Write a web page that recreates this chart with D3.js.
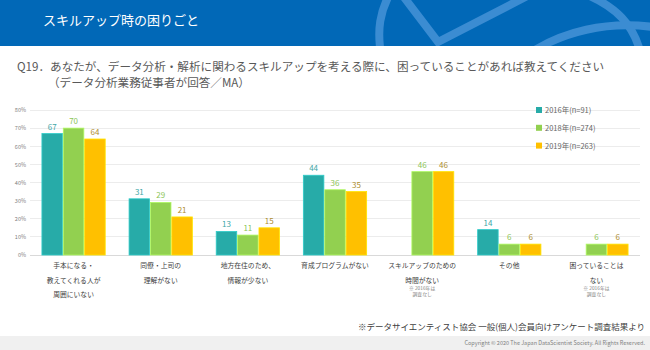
<!DOCTYPE html>
<html><head><meta charset="utf-8">
<script src="https://cdn.jsdelivr.net/npm/d3@7"></script>
<style>body{margin:0;background:#fff}svg{display:block}text{font-family:"Noto Sans CJK JP","Noto Sans",sans-serif}</style>
</head><body><svg id="c" width="650" height="350"></svg>
<script>
const categories = [
  ["手本になる・","教えてくれる人が","周囲にいない"],
  ["同僚・上司の","理解がない"],
  ["地方在住のため、","情報が少ない"],
  ["育成プログラムがない"],
  ["スキルアップのための","時間がない"],
  ["その他"],
  ["困っていることは","ない"]
];
const notes = [null,null,null,null,["※ 2016年は","調査なし"],null,["※ 2016年は","調査なし"]];
const seriesNames = ["2016年(n=91)","2018年(n=274)","2019年(n=263)"];
const v2016 = [67,31,13,44,null,14,null];
const v2018 = [70,29,11,36,46,6,6];
const v2019 = [64,21,15,35,46,6,6];
const yTicks = [0,10,20,30,40,50,60,70,80];
const barColors = ["#27aba8","#92d050","#ffc000"];
const labelColors = ["#3ea6a6","#8cc556","#ad8c2e"];
const series = [v2016, v2018, v2019];

const svg = d3.select("#c");
// header
svg.append("rect").attr("x",0).attr("y",0).attr("width",650).attr("height",46).attr("fill","#0168b7");
const hdr = svg.append("g");
svg.append("clipPath").attr("id","hc").append("rect").attr("width",650).attr("height",46);
hdr.attr("clip-path","url(#hc)").attr("fill","none").attr("stroke","#3b8cd2").attr("stroke-width",8);
hdr.append("path").attr("d","M382,60 C376,30 380,10 392,-10");
hdr.append("path").attr("d","M400,-8 L438,42 L535,-8");
hdr.append("path").attr("d","M520,60 C560,30 610,20 660,28");
hdr.append("path").attr("d","M580,-8 C615,5 636,25 642,60");
svg.append("text").attr("x",43).attr("y",25).attr("fill","#fff").attr("font-size",13).text("スキルアップ時の困りごと");

// question
svg.append("text").attr("x",17).attr("y",71).attr("fill","#595959").attr("font-size",11.6)
  .text("Q19．あなたが、データ分析・解析に関わるスキルアップを考える際に、困っていることがあれば教えてください");
svg.append("text").attr("x",48).attr("y",87).attr("fill","#595959").attr("font-size",11.6)
  .text("（データ分析業務従事者が回答／MA）");

// scales
const x0 = d3.scaleBand().domain(d3.range(categories.length)).range([30,640]).paddingInner(0.254).paddingOuter(0.127);
const x1 = d3.scaleBand().domain([0,1,2]).range([0,x0.bandwidth()]).padding(0.04);
const y = d3.scaleLinear().domain([0,80]).range([255,110]);

// grid
const g = svg.append("g");
g.selectAll("line.grid").data(yTicks).join("line")
  .attr("x1",30).attr("x2",640).attr("y1",d=>y(d)).attr("y2",d=>y(d))
  .attr("stroke",d=>d===0?"#d9d9d9":"#ececec").attr("stroke-width",1).attr("shape-rendering","crispEdges");
const yAxis = d3.axisLeft(y).tickValues(yTicks).tickFormat(d=>d+"%").tickSize(0).tickPadding(0);
const ya = svg.append("g").attr("transform","translate(26,0)").call(yAxis);
ya.select(".domain").remove();
ya.selectAll("text").attr("font-size",5.5).attr("fill","#808080");

// bars
series.forEach((vals,si)=>{
  const data = vals.map((v,i)=>({v,i})).filter(d=>d.v!=null);
  svg.append("g").selectAll("rect").data(data).join("rect")
    .attr("x",d=>x0(d.i)+x1(si)).attr("width",x1.bandwidth())
    .attr("y",d=>y(d.v)).attr("height",d=>y(0)-y(d.v))
    .attr("fill",barColors[si]).attr("stroke",d3.color(barColors[si]).brighter(0.5)).attr("stroke-width",0.8);
  svg.append("g").selectAll("text").data(data).join("text")
    .attr("x",d=>x0(d.i)+x1(si)+x1.bandwidth()/2).attr("y",d=>y(d.v)-4)
    .attr("text-anchor","middle").attr("font-size",8).attr("fill",labelColors[si]).text(d=>d.v);
});

// category labels
const cl = svg.append("g");
categories.forEach((lines,i)=>{
  const cx = x0(i)+x0.bandwidth()/2;
  lines.forEach((t,k)=>{
    cl.append("text").attr("x",cx).attr("y",268+k*14.5).attr("text-anchor","middle")
      .attr("font-size",6.8).attr("fill","#404040").text(t);
  });
  if(notes[i]){
    notes[i].forEach((t,k)=>{
      cl.append("text").attr("x",cx).attr("y",290+k*6).attr("text-anchor","middle")
        .attr("font-size",4.8).attr("fill","#808080").text(t);
    });
  }
});

// legend
const lg = svg.append("g");
seriesNames.forEach((n,i)=>{
  lg.append("rect").attr("x",536).attr("y",107+i*17.8).attr("width",6).attr("height",6).attr("fill",barColors[i]);
  lg.append("text").attr("x",545).attr("y",113+i*17.8).attr("font-size",7.5).attr("fill","#666").text(n);
});

// footer
svg.append("text").attr("x",645).attr("y",330).attr("text-anchor","end").attr("font-size",8.5).attr("fill","#404040")
  .text("※データサイエンティスト協会 一般(個人)会員向けアンケート調査結果より");
svg.append("rect").attr("x",0).attr("y",336).attr("width",650).attr("height",14).attr("fill","#f0f0f0");
svg.append("text").attr("x",645).attr("y",345).attr("text-anchor","end").attr("font-size",5.5).attr("fill","#7f7f7f")
  .text("Copyright © 2020  The Japan DataScientist Society. All Rights Reserved.");
</script></body></html>
